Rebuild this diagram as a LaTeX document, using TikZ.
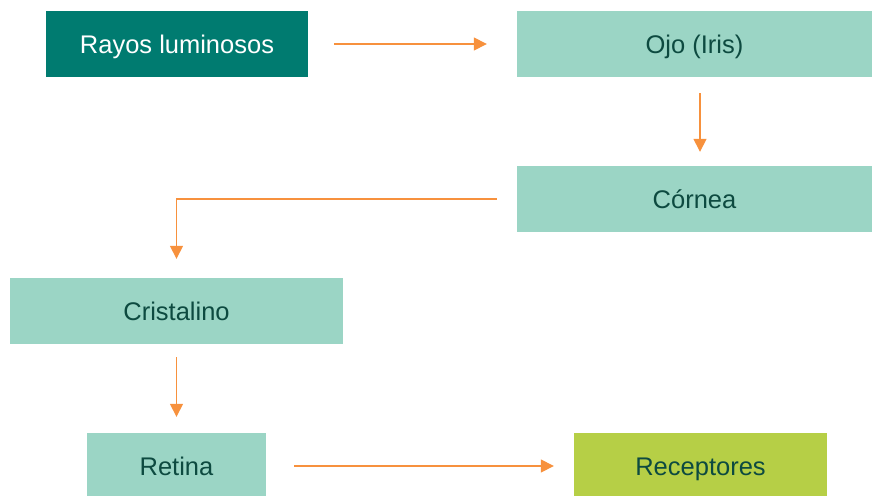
\documentclass[tikz,border=0pt]{standalone}
\usepackage{fontspec}
\setmainfont{Liberation Sans}
\usetikzlibrary{arrows.meta}
\definecolor{darkteal}{HTML}{007B70}
\definecolor{lightteal}{HTML}{9BD5C5}
\definecolor{lime}{HTML}{B6CF46}
\definecolor{txtteal}{HTML}{0D4A40}
\definecolor{arrorange}{HTML}{F7913D}
\tikzset{
  box/.style={rectangle, inner sep=0pt, text height=18.3pt, text depth=0pt, font=\fontsize{25.5}{30}\selectfont},
  lightbox/.style={box, fill=lightteal, text=txtteal},
  conn/.style={draw=arrorange, line width=1.5pt, -{Triangle[length=13pt,width=13pt]}}
}
\begin{document}
\begin{tikzpicture}[x=1pt,y=-1pt]
\useasboundingbox (0,0) rectangle (872,495);
\node[box, fill=darkteal, text=white, minimum width=262pt, minimum height=66pt] (rayos) at (177,44) {Rayos luminosos};
\node[lightbox, minimum width=355pt, minimum height=66pt] (ojo) at (694.5,44) {Ojo (Iris)};
\node[lightbox, minimum width=355pt, minimum height=66pt] (cornea) at (694.5,199) {Córnea};
\node[lightbox, minimum width=333pt, minimum height=66pt] (crist) at (176.5,311) {Cristalino};
\node[lightbox, minimum width=179pt, minimum height=66pt] (retina) at (176.5,466) {Retina};
\node[box, fill=lime, text=txtteal, minimum width=253pt, minimum height=66pt] (recep) at (700.5,466) {Receptores};
\draw[conn, shorten <=26pt, shorten >=30pt] (rayos) -- (ojo);
\draw[conn, shorten <=16pt, shorten >=14pt] (ojo.south -| 700,0) -- (cornea.north -| 700,0);
\draw[conn, shorten <=20pt, shorten >=19pt] (cornea.west) -| (crist.north);
\draw[conn, shorten <=13pt, shorten >=16pt] (crist) -- (retina);
\draw[conn, shorten <=28pt, shorten >=20pt] (retina) -- (recep);
\end{tikzpicture}
\end{document}
